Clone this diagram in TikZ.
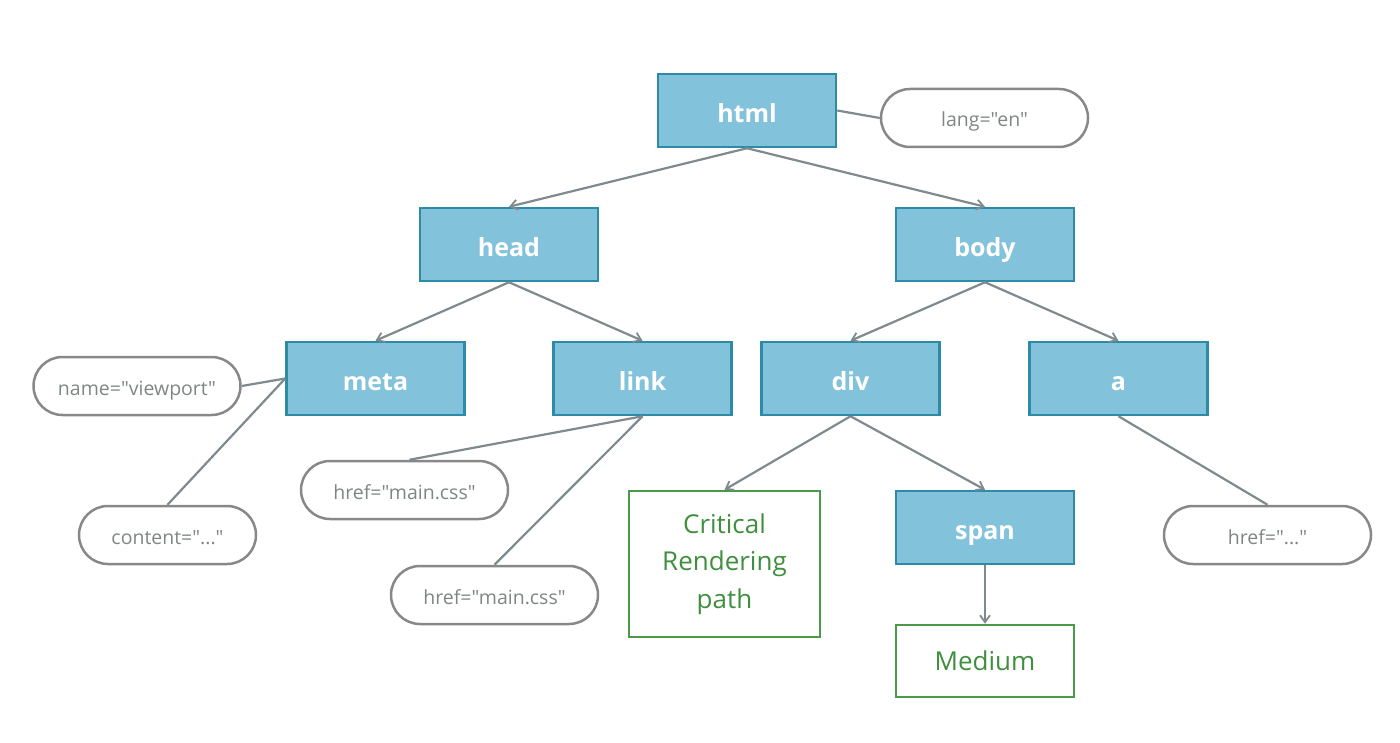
\documentclass[tikz,border=0pt]{standalone}
\usepackage{fontspec}
\setmainfont{Open Sans}[Ligatures=TeXOff]
\usetikzlibrary{arrows.meta}
\definecolor{boxfill}{HTML}{82C3DB}
\definecolor{boxline}{HTML}{2E8BA8}
\definecolor{pillline}{HTML}{888888}
\definecolor{attrtext}{HTML}{7F8585}
\definecolor{edgecol}{HTML}{7F8A8E}
\definecolor{greenc}{HTML}{4A9A4A}
\definecolor{greentext}{HTML}{3F8F3F}
\tikzset{
  tag/.style={draw=boxline, fill=boxfill, line width=2.5pt, minimum width=178pt, minimum height=73pt,
    inner sep=0pt, text=white, text height=24pt, text depth=0pt, font=\fontsize{25}{30}\selectfont\bfseries},
  attr/.style={draw=pillline, line width=2.5pt, rounded corners=29pt, minimum width=207pt, minimum height=58pt,
    inner sep=0pt, text=attrtext, text height=18pt, text depth=0pt, font=\fontsize{19.5}{23}\selectfont},
  note/.style={draw=greenc, line width=2.5pt, inner sep=0pt, text=greentext, align=center,
    font=\fontsize{26}{37.5}\selectfont},
  edge/.style={draw=edgecol, line width=2.2pt, -{Straight Barb[length=7pt,width=10pt,line width=1.8pt]}},
  aline/.style={draw=edgecol, line width=2.2pt},
}
\begin{document}
\begin{tikzpicture}[x=1pt,y=-1pt]
\useasboundingbox (0,0) rectangle (1400,743);
% tag nodes
\node[tag] (html) at (747,110.5) {html};
\node[tag] (head) at (509,244.5) {head};
\node[tag] (body) at (985,244.5) {body};
\node[tag] (meta) at (375.5,378.5) {meta};
\node[tag] (link) at (642.5,378.5) {link};
\node[tag] (div) at (850.5,378.5) {div};
\node[tag] (a) at (1118.5,378.5) {a};
\node[tag] (span) at (985,527.5) {span};
% notes
\node[note, minimum width=191pt, minimum height=146pt] (crp) at (724.5,564) {Critical\\Rendering\\path};
\node[note, minimum width=178pt, minimum height=72pt] (medium) at (985,661) {Medium};
% attributes
\node[attr] (lang) at (984.5,118) {lang="en"};
\node[attr] (name) at (137,386) {name="viewport"};
\node[attr, minimum width=177pt] (content) at (167.5,535) {content="..."};
\node[attr] (href1) at (404.5,490) {href="main.css"};
\node[attr] (href2) at (494.5,595) {href="main.css"};
\node[attr] (href3) at (1267.5,535) {href="..."};
% tree edges
\draw[edge] (html.south) -- (head.north);
\draw[edge] (html.south) -- (body.north);
\draw[edge] (head.south) -- (meta.north);
\draw[edge] (head.south) -- (link.north);
\draw[edge] (body.south) -- (div.north);
\draw[edge] (body.south) -- (a.north);
\draw[edge] (div.south) -- (crp.north);
\draw[edge] (div.south) -- (span.north);
\draw[edge] (span.south) -- (medium.north);
% attribute lines
\draw[aline] (html.east) -- (lang.west);
\draw[aline] (meta.west) -- (name.east);
\draw[aline] (meta.west) -- (content.north);
\draw[aline] (link.south) -- ([xshift=5pt]href1.north);
\draw[aline] (link.south) -- (href2.north);
\draw[aline] (a.south) -- (href3.north);
\end{tikzpicture}
\end{document}
